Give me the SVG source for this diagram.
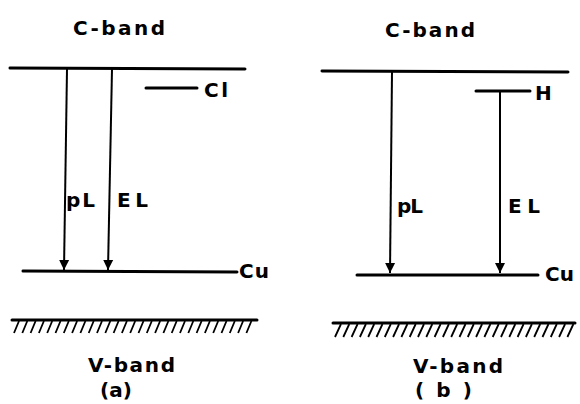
<svg xmlns="http://www.w3.org/2000/svg" width="580" height="404" viewBox="0 0 580 404">
<defs>
<style>
text{font-family:"DejaVu Sans","Liberation Sans",sans-serif;font-size:20px;font-weight:bold;fill:#000;}
.lvl{stroke:#000;stroke-width:3;fill:none;stroke-linecap:round;}
.tr{stroke:#000;stroke-width:2;fill:none;}
.hatch{stroke:#000;stroke-width:1.8;fill:none;}
</style>
<marker id="ah" viewBox="0 0 10 12" refX="10" refY="6" markerWidth="10" markerHeight="12" markerUnits="userSpaceOnUse" orient="auto">
<path d="M0,1 L10,6 L0,11 Z" fill="#000"/>
</marker>
</defs>

<g id="panel-a">
<g id="a-cband"><text x="73" y="35" textLength="92" lengthAdjust="spacing">C-band</text><line class="lvl" x1="10" y1="68" x2="245" y2="69"/></g>
<g id="a-cl"><line class="lvl" x1="146" y1="88" x2="197" y2="88"/><text x="204" y="97" textLength="24" lengthAdjust="spacing">Cl</text></g>
<g id="a-cu"><line class="lvl" x1="23" y1="271" x2="237" y2="272"/><text x="239" y="278" textLength="30" lengthAdjust="spacing">Cu</text></g>
<g id="a-vband"><line class="lvl" x1="12" y1="320" x2="257" y2="320"/>
<path class="hatch" d="M19,321 l-5,12 m13.3,-12 l-5,12 m13.3,-12 l-5,12 m13.3,-12 l-5,12 m13.3,-12 l-5,12 m13.3,-12 l-5,12 m13.3,-12 l-5,12 m13.3,-12 l-5,12 m13.3,-12 l-5,12 m13.3,-12 l-5,12 m13.3,-12 l-5,12 m13.3,-12 l-5,12 m13.3,-12 l-5,12 m13.3,-12 l-5,12 m13.3,-12 l-5,12 m13.3,-12 l-5,12 m13.3,-12 l-5,12 m13.3,-12 l-5,12 m13.3,-12 l-5,12 m13.3,-12 l-5,12 m13.3,-12 l-5,12 m13.3,-12 l-5,12 m13.3,-12 l-5,12 m13.3,-12 l-5,12 m13.3,-12 l-5,12 m13.3,-12 l-5,12 m13.3,-12 l-5,12 m13.3,-12 l-5,12 m13.3,-12 l-5,12"/>
<text x="88" y="372" textLength="87" lengthAdjust="spacing">V-band</text><text x="100" y="397" textLength="32" lengthAdjust="spacing">(a)</text></g>
<g id="a-labels"><text x="66" y="207" textLength="29" lengthAdjust="spacing">pL</text><text x="117" y="207" textLength="31" lengthAdjust="spacing">EL</text></g>
</g>

<g id="panel-b">
<g id="b-cband"><text x="385" y="37" textLength="90" lengthAdjust="spacing">C-band</text><line class="lvl" x1="322" y1="71" x2="568" y2="72"/></g>
<g id="b-h"><line class="lvl" x1="476" y1="91" x2="530" y2="91"/><text x="535" y="100" textLength="17" lengthAdjust="spacing">H</text></g>
<g id="b-cu"><line class="lvl" x1="357" y1="275" x2="538" y2="275"/><text x="545" y="281" textLength="29" lengthAdjust="spacing">Cu</text></g>
<g id="b-vband"><line class="lvl" x1="333" y1="323" x2="575" y2="323"/>
<path class="hatch" d="M341,324 l-6,13 m14.3,-13 l-6,13 m14.3,-13 l-6,13 m14.3,-13 l-6,13 m14.3,-13 l-6,13 m14.3,-13 l-6,13 m14.3,-13 l-6,13 m14.3,-13 l-6,13 m14.3,-13 l-6,13 m14.3,-13 l-6,13 m14.3,-13 l-6,13 m14.3,-13 l-6,13 m14.3,-13 l-6,13 m14.3,-13 l-6,13 m14.3,-13 l-6,13 m14.3,-13 l-6,13 m14.3,-13 l-6,13 m14.3,-13 l-6,13 m14.3,-13 l-6,13 m14.3,-13 l-6,13 m14.3,-13 l-6,13 m14.3,-13 l-6,13 m14.3,-13 l-6,13 m14.3,-13 l-6,13 m14.3,-13 l-6,13 m14.3,-13 l-6,13 m14.3,-13 l-6,13 m14.3,-13 l-6,13 m14.3,-13 l-6,13"/>
<text x="413" y="373" textLength="90" lengthAdjust="spacing">V-band</text><text x="415" y="397" textLength="57" lengthAdjust="spacing">( b )</text></g>
<g id="b-labels"><text x="397" y="213" textLength="26" lengthAdjust="spacing">pL</text><text x="508" y="213" textLength="32" lengthAdjust="spacing">EL</text></g>
</g>

<g id="connectors">
<line class="tr" x1="67" y1="69" x2="64" y2="270" marker-end="url(#ah)"/>
<line class="tr" x1="112" y1="69" x2="108" y2="270" marker-end="url(#ah)"/>
<line class="tr" x1="392" y1="72" x2="390" y2="273" marker-end="url(#ah)"/>
<line class="tr" x1="500" y1="91" x2="500" y2="273" marker-end="url(#ah)"/>
</g>
</svg>
